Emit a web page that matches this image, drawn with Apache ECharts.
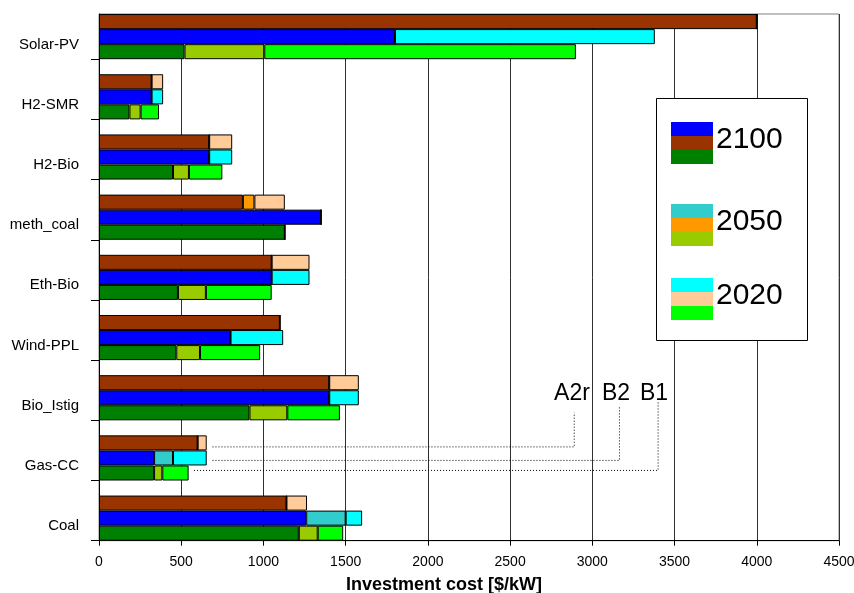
<!DOCTYPE html>
<html><head><meta charset="utf-8">
<script src="https://cdn.jsdelivr.net/npm/echarts@6/dist/echarts.min.js"></script>
<style>html,body{margin:0;padding:0;background:#fff}#c{width:854px;height:593px}</style>
</head><body><div id="c"></div>
<script>
// ---- data ----
const categories = ['Solar-PV','H2-SMR','H2-Bio','meth_coal','Eth-Bio','Wind-PPL','Bio_Istig','Gas-CC','Coal'];
const xTickValues = [0,500,1000,1500,2000,2500,3000,3500,4000,4500];
const scenarios = ['A2r','B2','B1'];
const periods = ['2100','2050','2020'];
// cost levels (cumulative) per scenario and period
const a2r2100 = [4000,320,670,875,1050,1100,1400,600,1140];
const a2r2050 = [4000,320,670,945,1050,1100,1400,600,1140];
const a2r2020 = [4000,390,810,1130,1280,1100,1580,655,1265];
const b22100  = [1800,320,670,1350,1050,800,1400,335,1260];
const b22050  = [1800,320,670,1350,1050,800,1400,450,1500];
const b22020  = [3380,390,810,1350,1280,1120,1580,655,1600];
const b12100  = [520,185,450,1130,480,470,915,335,1215];
const b12050  = [1005,253,547,1130,650,614,1145,385,1330];
const b12020  = [2900,365,750,1130,1050,980,1465,545,1485];
// annotation (dotted leaders from Gas-CC bars)
const annoLabels = ['A2r','B2','B1'];
const annoStartX = [690,690,578];
const annoTurnX  = [2890,3165,3400];
const annoLabelX = [2876,3144,3375];

// ---- styles ----
const colors = {
  A2r: ['#993300','#FF9900','#FFCC99'],
  B2:  ['#0000FF','#33CCCC','#00FFFF'],
  B1:  ['#008000','#99CC00','#00FF00']
};
const levels = {A2r:[a2r2100,a2r2050,a2r2020], B2:[b22100,b22050,b22020], B1:[b12100,b12050,b12020]};
const FONT = 'Liberation Sans, Arial, sans-serif';

const series = [{
  name: '_pad', type: 'bar', stack: 'pad', xAxisIndex: 0, yAxisIndex: 0,
  data: categories.map(() => 0), barGap: '0%', barCategoryGap: '0%',
  itemStyle: {opacity: 0}, silent: true
}];
scenarios.forEach(s => periods.forEach((p, i) => {
  const cur = levels[s][i], prev = i ? levels[s][i-1] : null;
  series.push({
    name: s + ' ' + p, type: 'bar', stack: s, xAxisIndex: 0, yAxisIndex: 0,
    data: cur.map((v, k) => prev ? v - prev[k] : v),
    barGap: '0%', barCategoryGap: '0%',
    itemStyle: {color: colors[s][i], borderColor: '#000', borderWidth: 1},
    emphasis: {disabled: true}
  });
}));

const legendTops = [122, 204, 278];
function legendFor(p, top) {
  return {
    orient: 'vertical', left: 671, top: top, padding: 0,
    itemWidth: 42, itemHeight: 14, itemGap: 0, icon: 'rect',
    data: ['B2 ' + p, 'A2r ' + p, 'B1 ' + p],
    formatter: () => '',
    itemStyle: {borderWidth: 0},
    textStyle: {fontFamily: FONT, fontSize: 6, lineHeight: 6, color: '#000'},
    selectedMode: false, z: 5
  };
}

const chart = echarts.init(document.getElementById('c'), null, {renderer: 'canvas'});
chart.setOption({
  animation: false,
  backgroundColor: '#fff',
  grid: [
    {left: 99, right: 15, top: -1, height: 541.7, outerBoundsMode: 'none', containLabel: false},
    {left: 99, right: 15, top: 14, bottom: 52.3, outerBoundsMode: 'none', containLabel: false,
     show: true, borderColor: '#808080', borderWidth: 1, backgroundColor: 'transparent'}
  ],
  xAxis: [
    {gridIndex: 0, type: 'value', min: 0, max: 4500, interval: 500, show: false},
    {gridIndex: 1, type: 'value', min: 0, max: 4500, interval: 500,
     axisLine: {show: true, lineStyle: {color: '#000', width: 1}},
     axisTick: {show: true, length: 5, lineStyle: {color: '#000'}},
     axisLabel: {fontFamily: FONT, fontSize: 14, color: '#000', margin: 14,
                 formatter: v => xTickValues.includes(v) ? String(v) : ''},
     splitLine: {show: true, lineStyle: {color: '#303030', width: 1}},
     name: 'Investment cost [$/kW]', nameLocation: 'middle', nameGap: 35,
     nameTextStyle: {fontFamily: FONT, fontSize: 18, fontWeight: 'bold', color: '#000', padding: [0, 50, 0, 0]}}
  ],
  yAxis: [
    {gridIndex: 0, type: 'category', data: categories, inverse: true,
     axisLine: {show: false},
     axisTick: {show: true, length: 8, lineStyle: {color: '#000'}},
     axisLabel: {fontFamily: FONT, fontSize: 15, color: '#000', margin: 20, interval: 0,
                 showMinLabel: true, showMaxLabel: true, hideOverlap: false,
                 formatter: v => '{a|' + v + '}',
                 rich: {a: {fontFamily: FONT, fontSize: 15, color: '#000', padding: [31, 0, 0, 0]}}},
     splitLine: {show: false}},
    {gridIndex: 1, type: 'value', min: 0, max: 1,
     axisLine: {show: true, lineStyle: {color: '#000', width: 1}},
     axisTick: {show: false}, axisLabel: {show: false}, splitLine: {show: false}}
  ],
  legend: periods.map((p, i) => legendFor(p, legendTops[i])),
  series: series
});

// legend frame + labels, annotation leaders (positions via library's coordinate conversion)
const yc = chart.convertToPixel({yAxisIndex: 0}, 'Gas-CC');
const px = v => chart.convertToPixel({xAxisIndex: 1}, v);
const lineDy = [-3.5, 10, 20];
const topDy = [-38, -44.5, -49.5];
const graphics = [{
  type: 'rect', left: 656, top: 98, z: 3, silent: true,
  shape: {width: 151, height: 242},
  style: {fill: '#fff', stroke: '#000', lineWidth: 1}
}];
periods.forEach((p, i) => {
  graphics.push({
    type: 'text', z: 6, silent: true, x: 716, y: legendTops[i] + 18,
    style: {text: p, fontFamily: FONT, fontSize: 30, fill: '#000', align: 'left', verticalAlign: 'middle'}
  });
});
annoLabels.forEach((lab, i) => {
  graphics.push({
    type: 'polyline', z: 6, silent: true,
    shape: {points: [[px(annoStartX[i]), yc + lineDy[i]], [px(annoTurnX[i]), yc + lineDy[i]], [px(annoTurnX[i]), yc + topDy[i]]]},
    style: {stroke: '#000', lineWidth: 1, lineDash: [1, 2], fill: null}
  });
  graphics.push({
    type: 'text', z: 6, silent: true,
    x: px(annoLabelX[i]), y: yc - 57,
    style: {text: lab, fontFamily: FONT, fontSize: 23, fill: '#000', align: 'center', verticalAlign: 'middle'}
  });
});
chart.setOption({graphic: graphics});
</script></body></html>
